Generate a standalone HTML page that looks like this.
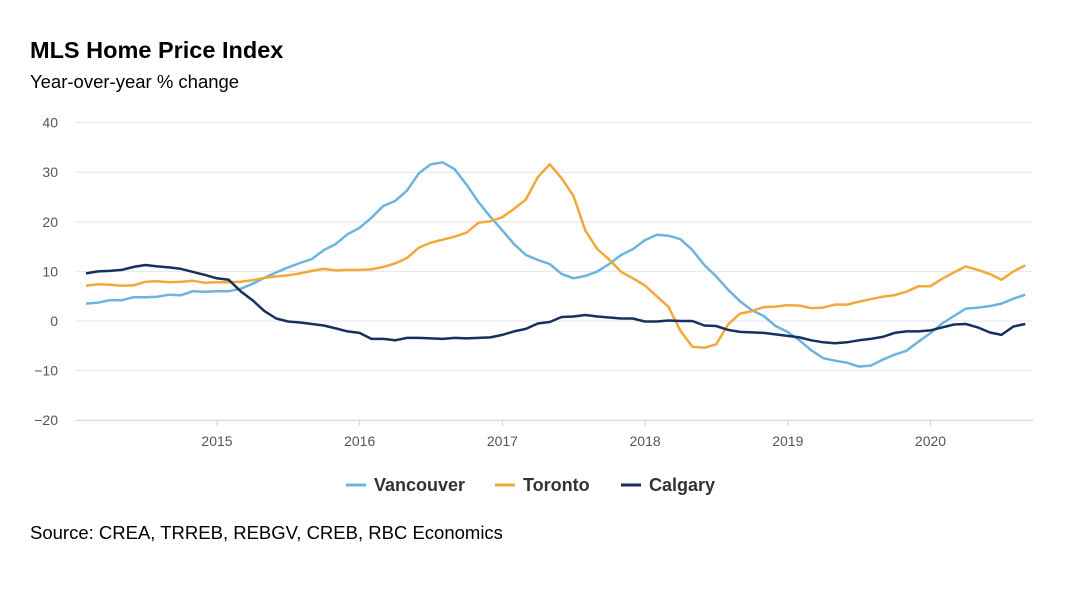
<!DOCTYPE html>
<html><head><meta charset="utf-8"><style>
body{margin:0;background:#fff;font-family:"Liberation Sans",sans-serif;}
</style></head><body>
<svg width="1080" height="588" xmlns="http://www.w3.org/2000/svg" font-family="Liberation Sans, sans-serif">
<rect width="1080" height="588" fill="#fff"/>
<text x="30" y="58" font-size="23.5" font-weight="bold" fill="#000">MLS Home Price Index</text>
<text x="30" y="88" font-size="18.5" fill="#000">Year-over-year % change</text>
<g id="grid" stroke="#dfe3ea" stroke-width="1"></g>
<g id="ylab" font-size="14" fill="#555" text-anchor="end"></g>
<g id="xlab" font-size="14" fill="#555" text-anchor="middle"></g>
<g id="series" fill="none" stroke-width="2.5" stroke-linejoin="round"></g>
<g font-size="18" font-weight="bold" fill="#333">
<line x1="346" y1="485" x2="366" y2="485" stroke="#6cb4dd" stroke-width="3"/>
<text x="374" y="491">Vancouver</text>
<line x1="495" y1="485" x2="515" y2="485" stroke="#f2a83a" stroke-width="3"/>
<text x="523" y="491">Toronto</text>
<line x1="621" y1="485" x2="641" y2="485" stroke="#16325c" stroke-width="3"/>
<text x="649" y="491">Calgary</text>
</g>
<text x="30" y="539" font-size="18.5" fill="#000">Source: CREA, TRREB, REBGV, CREB, RBC Economics</text>
</svg>
<script>
var ns="http://www.w3.org/2000/svg";
function el(p,t,a,txt){var e=document.createElementNS(ns,t);for(var k in a)e.setAttribute(k,a[k]);if(txt!==undefined)e.textContent=String(txt);document.getElementById(p).appendChild(e);}
function Y(v){return 321-v*4.96;}
for(var v=-20;v<=40;v+=10){var y=Y(v);el("grid","line",{x1:75,x2:1033,y1:y,y2:y,stroke:v==-20?"#c8cfe0":"#e3e6ec"});el("ylab","text",{x:58,y:y+5},(v<0?"\u2212"+(-v):String(v)));}
var yrs=[2015,2016,2017,2018,2019,2020];
yrs.forEach(function(yr,i){var x=217+i*142.7;el("xlab","text",{x:x,y:446},yr);el("grid","line",{x1:x,x2:x,y1:420,y2:426,stroke:"#c8cfe0"});});
function X(i){return 86+i*11.89;}
var van=[3.5,3.7,4.2,4.2,4.8,4.8,4.9,5.3,5.2,6.0,5.9,6.0,6.0,6.5,7.5,8.7,9.8,10.8,11.7,12.5,14.3,15.5,17.5,18.8,20.8,23.2,24.2,26.3,29.8,31.6,32.0,30.6,27.5,24,21,18.3,15.5,13.3,12.3,11.5,9.5,8.6,9.1,10.0,11.5,13.3,14.5,16.3,17.4,17.2,16.5,14.3,11.3,9.0,6.3,4.0,2.2,1.0,-1.0,-2.2,-3.9,-5.9,-7.5,-8.0,-8.4,-9.2,-9.0,-7.8,-6.8,-6.0,-4.2,-2.5,-0.5,1.0,2.5,2.7,3.0,3.5,4.5,5.3];
var tor=[7.1,7.4,7.3,7.1,7.2,7.9,8.0,7.8,7.9,8.1,7.7,7.8,7.8,7.9,8.2,8.7,9.0,9.2,9.6,10.1,10.5,10.2,10.3,10.3,10.4,10.9,11.6,12.7,14.8,15.8,16.4,17.0,17.8,19.8,20.1,20.9,22.6,24.5,29,31.6,28.8,25.2,18.2,14.5,12.4,9.9,8.6,7.2,5.0,2.8,-2,-5.2,-5.4,-4.7,-0.7,1.5,2.0,2.8,2.9,3.2,3.1,2.6,2.7,3.3,3.3,3.9,4.4,4.9,5.2,5.9,7.0,7.0,8.5,9.8,11.0,10.3,9.5,8.3,10.0,11.2];
var cal=[9.6,10.0,10.1,10.3,10.9,11.3,11.0,10.8,10.5,9.9,9.3,8.6,8.3,6.0,4.2,2.0,0.5,-0.1,-0.3,-0.6,-0.9,-1.5,-2.1,-2.4,-3.6,-3.6,-3.9,-3.4,-3.4,-3.5,-3.6,-3.4,-3.5,-3.4,-3.3,-2.8,-2.1,-1.6,-0.5,-0.2,0.8,0.9,1.2,0.9,0.7,0.5,0.5,-0.1,-0.1,0.1,0.0,0.0,-0.9,-1.0,-1.8,-2.2,-2.3,-2.4,-2.7,-3.0,-3.3,-3.9,-4.3,-4.5,-4.3,-3.9,-3.6,-3.2,-2.4,-2.1,-2.1,-1.9,-1.3,-0.7,-0.6,-1.3,-2.3,-2.8,-1.1,-0.6];
[[van,"#6cb4dd"],[tor,"#f2a83a"],[cal,"#16325c"]].forEach(function(s){el("series","polyline",{points:s[0].map(function(v,i){return X(i).toFixed(1)+","+Y(v).toFixed(1);}).join(" "),stroke:s[1]});});
</script>
</body></html>
